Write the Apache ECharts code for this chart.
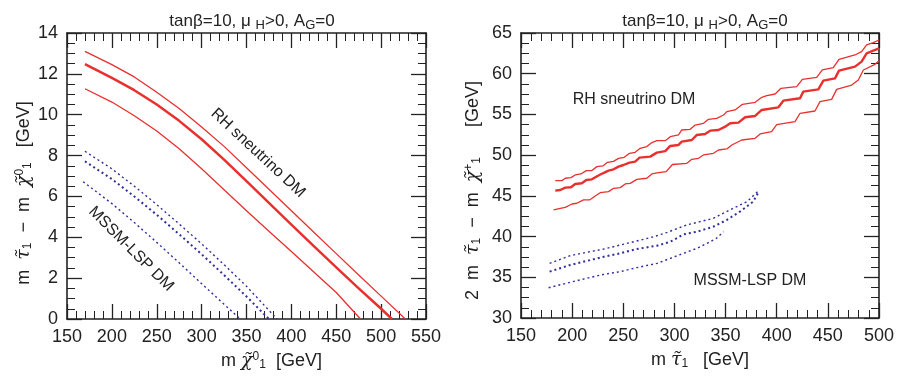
<!DOCTYPE html>
<html><head><meta charset="utf-8">
<script src="https://cdn.jsdelivr.net/npm/echarts@6/dist/echarts.min.js"></script>
<style>html,body{margin:0;padding:0;background:#fff}#c{width:899px;height:380px}</style>
</head><body><div id="c"></div><script>
// ---------- data: left panel (m_stau - m_chi0 vs m_chi0) ----------
const leftRhUpper = [[170,13.1],[200,12.45],[225,11.85],[250,11.1],[275,10.3],[300,9.4],[325,8.45],[350,7.4],[375,6.35],[400,5.3],[425,4.25],[450,3.2],[475,2.15],[500,1.12],[527,0]];
const leftRhMid   = [[170,12.48],[200,11.8],[225,11.2],[250,10.5],[275,9.7],[300,8.8],[325,7.8],[350,6.75],[375,5.68],[400,4.62],[425,3.57],[450,2.53],[475,1.5],[500,0.5],[512,0]];
const leftRhLower = [[170,11.27],[200,10.62],[225,9.95],[250,9.2],[275,8.33],[300,7.35],[325,6.33],[350,5.3],[375,4.3],[400,3.3],[425,2.3],[450,1.3],[477,0]];
const leftMssmUpper = [[170,8.21],[200,7.35],[225,6.5],[250,5.6],[275,4.65],[300,3.68],[325,2.66],[350,1.6],[384,0]];
const leftMssmMid   = [[170,7.72],[200,6.85],[225,6.0],[250,5.1],[275,4.15],[300,3.17],[325,2.15],[350,1.1],[375,0]];
const leftMssmLower = [[168,6.72],[200,5.65],[225,4.72],[250,3.75],[275,2.75],[300,1.73],[325,0.72],[343,0]];
// ---------- data: right panel (2 m_stau - m_chi+ vs m_stau) ----------
const rightRhUpper = [[183.5,46.87],[190,46.87],[193.3,47.16],[198.8,47.24],[203,47.57],[208.6,47.69],[213.8,48.1],[219.3,48.1],[224.2,48.59],[230,48.67],[234.6,49.12],[240.5,49.24],[245.3,49.6],[250.9,49.73],[256.1,50.23],[261.6,50.35],[266.5,50.84],[273,51.05],[278,51.54],[282.8,51.78],[291,51.78],[295.9,52.27],[304,52.48],[307.2,53.09],[315.4,53.17],[320.3,53.7],[328.4,53.91],[333.3,54.4],[341.4,54.52],[348,54.93],[351.2,55.34],[359.3,55.55],[366.5,56.24],[378.9,56.49],[385.4,57.1],[390.3,57.3],[398.4,57.51],[404.2,58.21],[419.5,58.41],[425.1,59.31],[439.1,59.56],[444.6,60.46],[455.3,60.74],[460.9,61.77],[476.5,62.3],[483,62.71],[487.9,63.53],[494.4,63.81],[500,64.14]];
const rightRhMid = [[183.5,45.64],[188.4,45.72],[193.3,46.01],[198.8,46.05],[203,46.46],[209.5,46.54],[213.8,46.95],[219.3,47.03],[224.8,47.44],[230,47.77],[235.6,48.1],[240.5,48.26],[245.3,48.59],[250.2,48.79],[256.1,49.08],[261.6,49.2],[265.9,49.69],[276.3,49.82],[282.8,50.31],[291,50.5],[295.9,51.13],[304,51.25],[307.2,51.66],[317,51.86],[321.9,52.48],[330,52.6],[334.9,53.01],[343.1,53.09],[349.6,53.5],[354.5,53.91],[362.6,53.99],[369.1,54.65],[378.9,54.81],[385.4,55.55],[401.6,55.87],[406.5,56.69],[422.8,56.98],[426,57.8],[440.7,58.08],[445.6,59.15],[457,59.43],[460.9,60.38],[476.5,60.87],[483,61.48],[487.9,62.5],[494.4,62.83],[500,63.12]];
const rightRhLower = [[181.9,43.27],[188.4,43.47],[193.3,43.59],[199.8,44.0],[204.6,44.09],[211.2,44.5],[217,44.5],[222.6,44.99],[227.4,45.39],[235.6,45.52],[240.5,45.93],[247,46.01],[251.9,46.46],[256.7,46.54],[263.3,47.03],[273,47.16],[277.9,47.69],[284.4,47.85],[292,47.97],[298,48.85],[312.1,49.0],[317,49.49],[323.5,49.61],[328.4,50.02],[338.2,50.23],[343.1,50.63],[351.2,50.76],[356.1,51.25],[365.9,51.86],[378.9,52.07],[383.8,52.6],[395,52.9],[400,53.75],[417.9,54.11],[422.8,55.14],[437.4,55.42],[442.3,56.57],[453.7,56.85],[458.6,58.08],[473.3,58.61],[479.8,59.23],[484.7,60.46],[496.1,61.15],[500,61.6]];
const rightMssmUpper = [[178,36.71],[198,37.65],[214,38.06],[231,38.47],[247,38.96],[263,39.45],[280,39.99],[293,40.52],[312,41.42],[325,41.83],[338,42.24],[354,43.26],[371,44.29],[382,45.6]];
const rightMssmMid   = [[178,35.69],[198,36.51],[214,37.0],[231,37.53],[247,37.94],[263,38.47],[283,38.88],[296,39.37],[309,40.27],[322,40.6],[338,41.21],[351,42.03],[364,43.06],[377,44.29],[382,45.4]];
const rightMssmLower = [[177,33.72],[198,34.38],[214,34.87],[231,35.36],[247,35.69],[263,36.18],[283,36.71],[296,37.33],[309,37.94],[322,38.55],[332,39.17],[341,39.78],[348,40.6]];
// ---------- axes ----------
const leftX = {min:150, max:550, step:50};
const leftY = {min:0, max:14, step:2};
const rightX = {min:150, max:500, step:50};
const rightY = {min:30, max:65, step:5};

const FONT = '"Liberation Sans", Arial, Helvetica, sans-serif';
const INK = '#222';
const RED = '#e8302e';
const BLUE = '#2e2e9e';

const rich = {
  t:{fontSize:18, fontFamily:FONT, color:INK},
  g:{fontSize:19, fontFamily:'"DejaVu Serif", serif', color:INK, fontStyle:'italic'},
  sb:{fontSize:12, fontFamily:FONT, color:INK, verticalAlign:'bottom', padding:[8,0,0,0]},
  sp:{fontSize:12, fontFamily:FONT, color:INK, verticalAlign:'top', padding:[0,0,8,0]}
};

function axis(kind, grid, r, pos, showLabel, minorSplit, extra) {
  return Object.assign({
    type:'value', gridIndex:grid, min:r.min, max:r.max, interval:r.step, position:pos,
    axisLine:{show:true, onZero:false, lineStyle:{color:INK, width:1.6}},
    axisTick:{show:true, inside:true, length:15, lineStyle:{color:INK, width:1.3}},
    minorTick:{show:true, splitNumber:minorSplit, length:8, lineStyle:{color:INK, width:1}},
    splitLine:{show:false},
    axisLabel:{show:showLabel, fontSize:18, color:INK, fontFamily:FONT, margin:9},
  }, extra || {});
}

function line(data, xi, yi, color, width, dotted) {
  return {
    type:'line', data:data, xAxisIndex:xi, yAxisIndex:yi, showSymbol:false, symbol:'none',
    smooth:false, silent:true, clip:true,
    lineStyle:{color:color, width:width, type: dotted ? [2,3] : 'solid', join:'round'}
  };
}

const chart = echarts.init(document.getElementById('c'), null, {renderer:'canvas'});
const titleText = 'tanβ=10, μ {sb|H}>0, A{sb|G}=0';
const titleRich = {
  sb:{fontSize:13, fontFamily:FONT, color:INK, verticalAlign:'bottom', padding:[9,0,0,0]}
};
chart.setOption({
  animation:false,
  backgroundColor:'#fff',
  textStyle:{fontFamily:FONT},
  title:[
    {text:titleText, left:247, top:5, textAlign:'center', textStyle:{fontSize:17, fontWeight:'normal', color:INK, fontFamily:FONT, rich:titleRich}},
    {text:titleText, left:700, top:5, textAlign:'center', textStyle:{fontSize:17, fontWeight:'normal', color:INK, fontFamily:FONT, rich:titleRich}}
  ],
  grid:[
    {left:67, top:33, width:359, height:286},
    {left:521, top:33, width:358, height:285}
  ],
  xAxis:[
    axis('x',0,leftX,'bottom',true,5,{
      name:'{t|m }{g|χ̃}{sp|0}{sb|1}{t|  [GeV]}', nameLocation:'middle', nameGap:32,
      nameTextStyle:{rich:rich, padding:[0,0,0,50]}}),
    axis('x',0,leftX,'top',false,5),
    axis('x',1,rightX,'bottom',true,5,{
      name:'{t|m }{g|τ̃}{sb|1}{t|   [GeV]}', nameLocation:'middle', nameGap:32,
      nameTextStyle:{rich:rich}}),
    axis('x',1,rightX,'top',false,5)
  ],
  yAxis:[
    axis('y',0,leftY,'left',true,4,{
      name:'{t|m  }{g|τ̃}{sb|1}{t|  −  m  }{g|χ̃}{sp|0}{sb|1}{t|   [GeV]}', nameLocation:'middle', nameGap:33,
      nameTextStyle:{rich:rich, padding:[0,34,0,0]}}),
    axis('y',0,leftY,'right',false,4),
    axis('y',1,rightY,'left',true,4,{
      name:'{t|2  m  }{g|τ̃}{sb|1}{t|  −  m  }{g|χ̃}{sp|+}{sb|1}{t|      [GeV]}', nameLocation:'middle', nameGap:38,
      nameTextStyle:{rich:rich, padding:[0,30,0,0]}}),
    axis('y',1,rightY,'right',false,4)
  ],
  graphic:[
    {type:'text', x:258, y:153, rotation:-43*Math.PI/180, style:{text:'RH sneutrino DM', font:'16px '+FONT, fill:INK, align:'center', verticalAlign:'middle'}},
    {type:'text', x:131, y:249, rotation:-45*Math.PI/180, style:{text:'MSSM-LSP DM', font:'16px '+FONT, fill:INK, align:'center', verticalAlign:'middle'}},
    {type:'text', x:634, y:100, style:{text:'RH sneutrino DM', font:'16px '+FONT, fill:INK, align:'center', verticalAlign:'middle'}},
    {type:'text', x:750, y:281, style:{text:'MSSM-LSP DM', font:'16px '+FONT, fill:INK, align:'center', verticalAlign:'middle'}}
  ],
  series:[
    line(leftRhUpper,0,0,RED,1.3,false),
    line(leftRhMid,0,0,RED,2.5,false),
    line(leftRhLower,0,0,RED,1.3,false),
    line(leftMssmUpper,0,0,BLUE,1.4,true),
    line(leftMssmMid,0,0,BLUE,2,true),
    line(leftMssmLower,0,0,BLUE,1.4,true),
    line(rightRhUpper,2,2,RED,1.3,false),
    line(rightRhMid,2,2,RED,2.4,false),
    line(rightRhLower,2,2,RED,1.3,false),
    line(rightMssmUpper,2,2,BLUE,1.4,true),
    line(rightMssmMid,2,2,BLUE,2,true),
    line(rightMssmLower,2,2,BLUE,1.4,true)
  ]
});
</script></body></html>
